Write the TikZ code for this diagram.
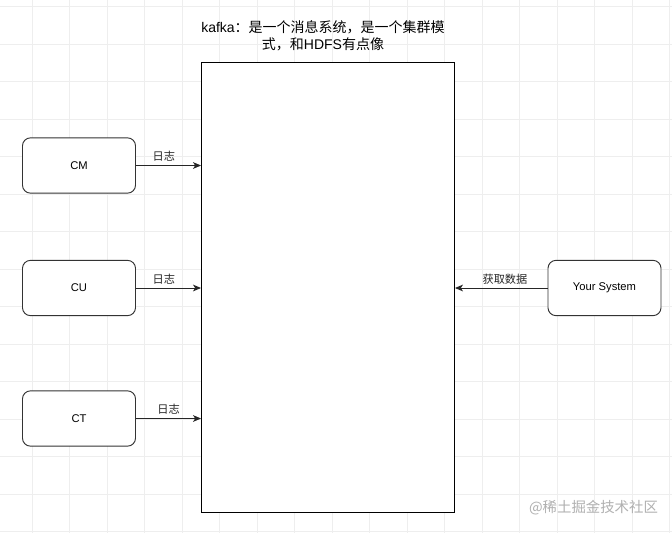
\documentclass[tikz,border=0pt]{standalone}
\usepackage{fontspec}
\setmainfont{Liberation Sans}
\newfontfamily\cjk{Noto Sans CJK SC}
\usepackage{tikz}
\usetikzlibrary{arrows.meta, positioning}
\definecolor{gridgray}{HTML}{EEEEEE}
\definecolor{markgray}{HTML}{B0B0B0}

\begin{document}
\begin{tikzpicture}[
  x=0.75pt, y=-0.75pt,
  box/.style={rectangle, draw=black!80, rounded corners=6pt, fill=white, line width=0.7pt,
             minimum width=84.75pt, minimum height=41.5pt, inner sep=0pt,
             font=\fontsize{8.4}{10}\selectfont},
  kafkabox/.style={rectangle, draw=black, fill=white, line width=0.7pt,
             minimum width=189.75pt, minimum height=337.5pt, inner sep=0pt},
  arrow/.style={-{Stealth[length=6pt, width=5pt, inset=1.6pt]}, line width=0.7pt, color=black!85},
  lbl/.style={font=\fontsize{8.4}{10}\selectfont\cjk, inner sep=1pt}
]
\useasboundingbox (0,0) rectangle (672,533);
\fill[white] (0,0) rectangle (672,533);

% grid
\foreach \gx in {0,...,17}
  \draw[gridgray, line width=0.6pt] ({32.3+37.5*\gx},0) -- ({32.3+37.5*\gx},533);
\foreach \gy in {0,...,14}
  \draw[gridgray, line width=0.6pt] (0,{6.5+37.5*\gy}) -- (672,{6.5+37.5*\gy});

% kafka cluster
\node[kafkabox] (kafka) at (328,287.5) {};
\node[align=center, font=\fontsize{10.5}{12.75}\selectfont] (title) at (323,35.5)
  {kafka{\cjk ：是一个消息系统，是一个集群模}\\{\cjk 式，和}HDFS{\cjk 有点像}};

% producers
\node[box] (cm) at (79,165.5) {CM};
\node[box] (cu) at (79,288) {CU};
\node[box] (ct) at (79,418.5) {CT};

% consumer
\node[box] (sys) at (604.5,288) {Your System};

\draw[arrow] (cm.east) -- node[lbl, pos=0.43, above=1.5pt] {日志} (cm.east -| kafka.west);
\draw[arrow] (cu.east) -- node[lbl, pos=0.43, above=1.5pt] {日志} (cu.east -| kafka.west);
\draw[arrow] (ct.east) -- node[lbl, pos=0.5, above=1.5pt] {日志} (ct.east -| kafka.west);
\draw[arrow] (sys.west) -- node[lbl, pos=0.46, above=1.5pt] {获取数据} (sys.west -| kafka.east);

\node[text=markgray, font=\fontsize{10.8}{13}\selectfont\cjk] (mark) at (593.5,508) {@稀土掘金技术社区};
\end{tikzpicture}
\end{document}
